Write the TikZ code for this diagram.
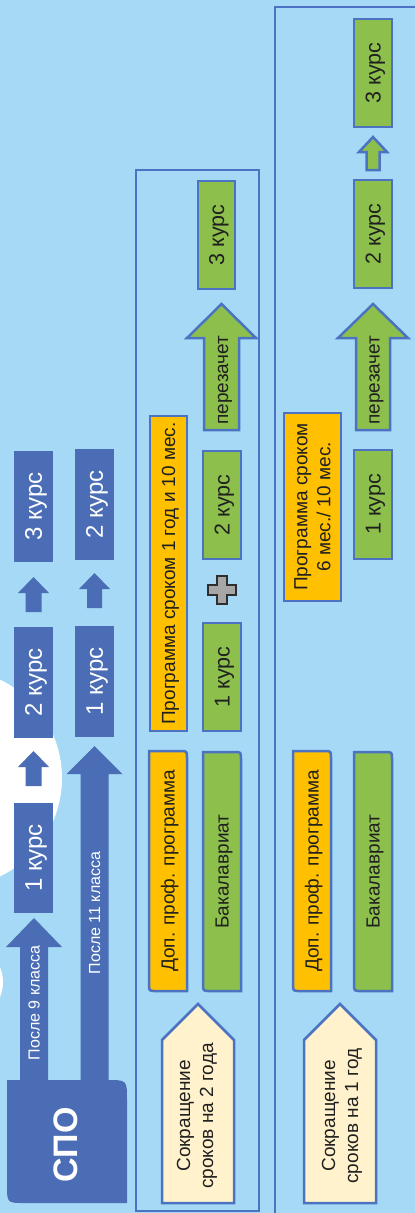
\documentclass[tikz,border=0pt]{standalone}
\usepackage{fontspec}
\setmainfont{Liberation Sans}
\definecolor{bg}{HTML}{A5D9F6}
\definecolor{dblue}{HTML}{4A6DB5}
\definecolor{bord}{HTML}{4C73C2}
\definecolor{grn}{HTML}{8CBF4B}
\definecolor{org}{HTML}{FFC000}
\definecolor{crm}{HTML}{FFF2CC}
\definecolor{txt}{HTML}{202020}
\definecolor{plusg}{HTML}{A6A6A6}
\definecolor{plusd}{HTML}{2E2E2E}
\begin{document}
\begin{tikzpicture}[x=1pt,y=-1pt,line join=miter,
  bbox/.style={fill=dblue, text=white, rotate=90, inner sep=0pt,
    font=\fontsize{24}{28}\selectfont, text height=21.6pt, text depth=4.8pt},
  gbox/.style={fill=grn, draw=bord, line width=2.5pt, rotate=90, inner sep=0pt,
    text=txt, font=\fontsize{21.5}{25}\selectfont, text height=19.4pt, text depth=4.3pt},
  obox/.style={fill=org, draw=bord, line width=2.5pt, rotate=90, inner sep=0pt,
    text=txt, font=\fontsize{19}{23}\selectfont, align=center},
  lbl/.style={rotate=90, inner sep=0pt, text=txt, font=\fontsize{19}{23}\selectfont,
    align=center},
  wlbl/.style={rotate=90, inner sep=0pt, text=white, font=\fontsize{16}{19}\selectfont,
    text height=14.4pt, text depth=3.2pt},
  garrow/.style={fill=grn, draw=bord, line width=2.5pt},
  panel/.style={draw=bord, line width=2pt},
  shapebox/.style={draw=bord, line width=2.5pt}
]
\useasboundingbox (0,0) rectangle (415,1213);
\clip (0,0) rectangle (415,1213);
\fill[bg] (0,0) rectangle (415,1213);
% white decorative circles
\fill[white] (-47,778) circle[radius=109];
\fill[white] (-36,982) circle[radius=39];

% panels
\draw[panel] (136,170) rectangle (259,1211);
\draw[panel] (275,7) rectangle (440,1240);

% ---------- SPO block and arrows ----------
\fill[dblue] (20,1090) -- (20,947) -- (6,947) -- (34,918) -- (62,947) -- (48,947) -- (48,1090) -- cycle;
\fill[dblue] (80.5,1090) -- (80.5,774) -- (66.5,774) -- (94.5,746) -- (122.5,774) -- (108.5,774) -- (108.5,1090) -- cycle;
\fill[dblue] (7,1080) -- (107,1080) .. controls (127,1080) .. (127,1100) -- (127,1203)
   -- (25,1203) .. controls (7,1203) .. (7,1185) -- cycle;
\node[rotate=90, text=white, inner sep=0pt, font=\bfseries\fontsize{34}{40}\selectfont] (spo) at (66,1145) {СПО};
\node[wlbl] (p9) at (34,1003) {После 9 класса};
\node[wlbl] (p11) at (94.5,913) {После 11 класса};

% blue course boxes
\node[bbox, minimum width=111pt, minimum height=39pt] (l3) at (33.5,506.5) {3 курс};
\node[bbox, minimum width=111pt, minimum height=39pt] (l2) at (33.5,682.5) {2 курс};
\node[bbox, minimum width=110pt, minimum height=39pt] (l1) at (33.5,858) {1 курс};
\node[bbox, minimum width=111pt, minimum height=39pt] (r2) at (94.5,504.5) {2 курс};
\node[bbox, minimum width=111pt, minimum height=39pt] (r1) at (94.5,681.5) {1 курс};

% small blue arrows
\fill[dblue] (25.5,612) -- (25.5,593) -- (18,593) -- (33.5,577) -- (49,593) -- (41.5,593) -- (41.5,612) -- cycle;
\fill[dblue] (25.5,786) -- (25.5,767) -- (18,767) -- (33.5,751) -- (49,767) -- (41.5,767) -- (41.5,786) -- cycle;
\fill[dblue] (87,608) -- (87,589) -- (79,589) -- (94.5,573) -- (110,589) -- (102,589) -- (102,608) -- cycle;

% ---------- middle panel ----------
\node[gbox, minimum width=108pt, minimum height=37pt] (m3) at (216.5,235) {3 курс};
\draw[garrow] (204,430) -- (204,338) -- (187,338) -- (221.5,304) -- (256,338) -- (239,338) -- (239,430) -- cycle;
\node[lbl, text height=17pt, text depth=3.8pt] (mpz) at (221.5,380) {перезачет};
\node[gbox, minimum width=108pt, minimum height=38pt] (m2) at (222,505) {2 курс};
\draw[fill=plusg, draw=plusd, line width=2pt]
  (217,576) -- (227,576) -- (227,585) -- (236,585) -- (236,595) -- (227,595) -- (227,604)
  -- (217,604) -- (217,595) -- (208,595) -- (208,585) -- (217,585) -- cycle;
\node[gbox, minimum width=108pt, minimum height=38pt] (m1) at (222,677) {1 курс};
\node[obox, minimum width=315pt, minimum height=37pt, text height=17pt, text depth=3.8pt] (mprog) at (168.5,573.5) {Программа сроком 1 год и 10 мес.};
% rounded-diagonal boxes
\draw[shapebox, fill=org] (149,751) -- (180,751) .. controls (187,751) .. (187,758) -- (187,991)
  -- (156,991) .. controls (149,991) .. (149,984) -- cycle;
\node[lbl, text height=17pt, text depth=3.8pt] (mdop) at (168,871) {Доп. проф. программа};
\draw[shapebox, fill=grn] (203,752) -- (234,752) .. controls (241,752) .. (241,759) -- (241,991)
  -- (210,991) .. controls (203,991) .. (203,984) -- cycle;
\node[lbl, text height=17pt, text depth=3.8pt] (mbak) at (222,871.5) {Бакалавриат};
% pentagon
\draw[shapebox, fill=crm] (162,1203) -- (162,1040) -- (198,1004) -- (234,1040) -- (234,1203) -- cycle;
\node[lbl] (msokr) at (197,1116) {Сокращение\\сроков на 2 года};

% ---------- right panel ----------
\node[gbox, minimum width=108pt, minimum height=38pt] (q3) at (373,73) {3 курс};
\draw[garrow] (366.5,170) -- (366.5,152) -- (359,152) -- (373,137) -- (387,152) -- (379.5,152) -- (379.5,170) -- cycle;
\node[gbox, minimum width=108pt, minimum height=38pt] (q2) at (373,234) {2 курс};
\draw[garrow] (356,430) -- (356,338) -- (338,338) -- (373,304) -- (408,338) -- (390,338) -- (390,430) -- cycle;
\node[lbl, text height=17pt, text depth=3.8pt] (qpz) at (373,380) {перезачет};
\node[gbox, minimum width=109pt, minimum height=38pt] (q1) at (373,504.5) {1 курс};
\node[obox, minimum width=188pt, minimum height=57pt] (qprog) at (312.5,507) {Программа сроком\\6 мес./ 10 мес.};
\draw[shapebox, fill=org] (293,751) -- (324,751) .. controls (331,751) .. (331,758) -- (331,991)
  -- (300,991) .. controls (293,991) .. (293,984) -- cycle;
\node[lbl, text height=17pt, text depth=3.8pt] (qdop) at (312,871) {Доп. проф. программа};
\draw[shapebox, fill=grn] (354,752) -- (385,752) .. controls (392,752) .. (392,759) -- (392,991)
  -- (361,991) .. controls (354,991) .. (354,984) -- cycle;
\node[lbl, text height=17pt, text depth=3.8pt] (qbak) at (373,871.5) {Бакалавриат};
\draw[shapebox, fill=crm] (304,1203) -- (304,1040) -- (340,1004) -- (376,1040) -- (376,1203) -- cycle;
\node[lbl] (qsokr) at (342,1116) {Сокращение\\сроков на 1 год};
\end{tikzpicture}
\end{document}
